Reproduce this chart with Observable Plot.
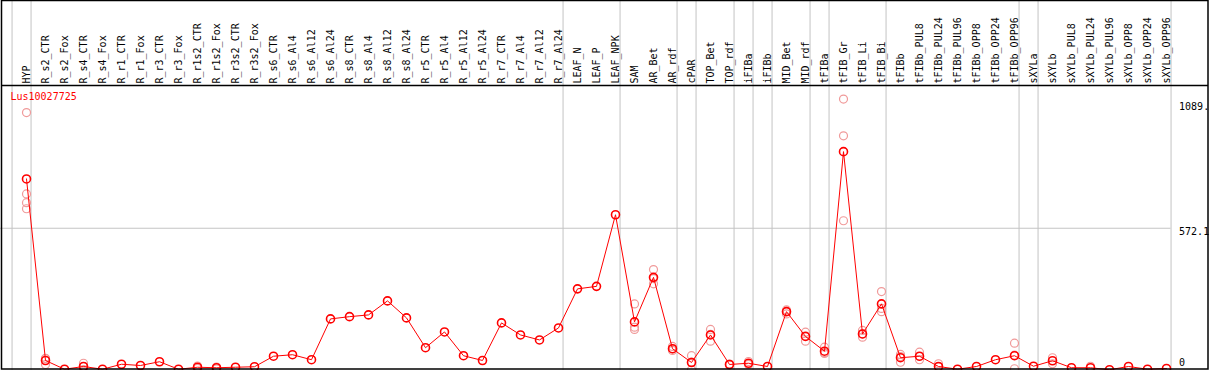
<!DOCTYPE html>
<html>
<head>
<meta charset="utf-8">
<script src="https://cdn.jsdelivr.net/npm/d3@7"></script>
<script src="https://cdn.jsdelivr.net/npm/@observablehq/plot@0.6"></script>
<style>
  html, body { margin: 0; padding: 0; background: #fff; }
  #chart svg { display: block; }
</style>
</head>
<body>
<div id="chart"></div>
<script>
const title = "Lus10027725";

const categories = [
  "HYP","R_s2_CTR","R_s2_Fox","R_s4_CTR","R_s4_Fox","R_r1_CTR","R_r1_Fox","R_r3_CTR","R_r3_Fox",
  "R_r1s2_CTR","R_r1s2_Fox","R_r3s2_CTR","R_r3s2_Fox","R_s6_CTR","R_s6_Al4","R_s6_Al12","R_s6_Al24",
  "R_s8_CTR","R_s8_Al4","R_s8_Al12","R_s8_Al24","R_r5_CTR","R_r5_Al4","R_r5_Al12","R_r5_Al24",
  "R_r7_CTR","R_r7_Al4","R_r7_Al12","R_r7_Al24","LEAF_N","LEAF_P","LEAF_NPK","SAM","AR_Bet","AR_rdf",
  "cPAR","TOP_Bet","TOP_rdf","iFIBa","iFIBb","MID_Bet","MID_rdf","tFIBa","tFIB_Gr","tFIB_Li","tFIB_Bi",
  "tFIBb","tFIBb_PUL8","tFIBb_PUL24","tFIBb_PUL96","tFIBb_OPP8","tFIBb_OPP24","tFIBb_OPP96",
  "sXYLa","sXYLb","sXYLb_PUL8","sXYLb_PUL24","sXYLb_PUL96","sXYLb_OPP8","sXYLb_OPP24","sXYLb_OPP96"
];

const means = [
  769,44,9,20,9,29,24,39,9,
  17,15,17,19,61,67,47,210,
  219,226,282,214,95,158,63,44,
  194,146,126,174,330,340,626,198,376,91,
  36,146,28,33,20,239,140,81,878,150,270,
  55,61,20,9,20,47,63,
  21,43,15,15,7,20,9,12
];

const replicates = [
  [1034,709,674,650],[53,28,51],[],[33,20,8],[],[],[],[],[],
  [22,12],[18,10],[],[],[],[],[],[],
  [],[],[],[],[],[],[],[],
  [],[],[],[],[],[],[],[270,177,168],[407,350,371],[100,84,90],
  [63,7,38],[168,121,148],[30,26],[40,28],[],[246,230,240],[157,121,142],[97,72,75],[1088,941,602],[164,137,150],[319,252,239],
  [68,37,60],[77,47,60],[31,18],[],[],[],[113,11,65],
  [],[31,55],[],[21],[],[],[],[]
];

// index of last category in each group (group separators drawn just after)
const groupEnds = [-1, 0, 28, 31, 34, 35, 37, 38, 39, 41, 42, 45, 52, 53, 60];

const yTicks = [0, 572.1, 1089];
const yTickLabels = ["0", "572.1", "1089."];

const repData = replicates.flatMap((vals, i) => vals.map(v => ({i, v})));
const meanData = means.map((v, i) => ({i, v}));

const font = "DejaVu Sans Mono";
const sep = 0.24;
const lastX = categories.length - 1 + sep;

const chart = Plot.plot({
  width: 1209,
  height: 370,
  marginTop: 0, marginBottom: 0, marginLeft: 0, marginRight: 0,
  style: {fontFamily: font, fontSize: "10px", background: "white"},
  x: {type: "linear", domain: [0, 60], range: [26, 1166], axis: null},
  y: {type: "linear", domain: [0, 1089], range: [371, 98.3], axis: null},
  marks: [
    Plot.ruleX(groupEnds, {x: d => d + sep, stroke: "#c4c4c4", strokeWidth: 1}),
    Plot.ruleY([yTicks[1]], {x1: -1.5, x2: lastX, stroke: "#c4c4c4", strokeWidth: 1}),
    Plot.text(categories, {
      x: (d, i) => i, text: d => d, frameAnchor: "top", dy: 83, lineAnchor: "middle",
      rotate: -90, textAnchor: "start", fill: "black", fontSize: 10, fontFamily: font
    }),
    Plot.text([title], {frameAnchor: "top-left", dx: 10, dy: 96.5, lineAnchor: "middle", textAnchor: "start", fill: "#ff0000", fontSize: 10, fontFamily: font}),
    Plot.text([yTicks[2]], {x: lastX, y: d => d, dx: 8, dy: 8, textAnchor: "start", text: () => yTickLabels[2], fill: "black", fontFamily: font}),
    Plot.text([yTicks[1]], {x: lastX, y: d => d, dx: 8, dy: 3.5, textAnchor: "start", text: () => yTickLabels[1], fill: "black", fontFamily: font}),
    Plot.text([yTicks[0]], {x: lastX, y: d => d, dx: 8, dy: -9, textAnchor: "start", text: () => yTickLabels[0], fill: "black", fontFamily: font}),
    Plot.dot(repData, {x: "i", y: "v", r: 4, stroke: "#f09a9a", strokeWidth: 1.2, fill: "none"}),
    Plot.line(meanData, {x: "i", y: "v", stroke: "#ff0000", strokeWidth: 1}),
    Plot.dot(meanData, {x: "i", y: "v", r: 4, stroke: "#ff0000", strokeWidth: 1.6, fill: "none"})
  ]
});

document.getElementById("chart").appendChild(chart);

// frame decoration: outer border and separator under the labels
const svg = d3.select(chart);
svg.append("rect")
  .attr("x", 1.5).attr("y", 0.5).attr("width", 1206.5).attr("height", 368.5)
  .attr("fill", "none").attr("stroke", "black").attr("stroke-width", 1.5);
svg.append("line")
  .attr("x1", 1).attr("x2", 1208).attr("y1", 85.5).attr("y2", 85.5)
  .attr("stroke", "black").attr("stroke-width", 1.5);
</script>
</body>
</html>
